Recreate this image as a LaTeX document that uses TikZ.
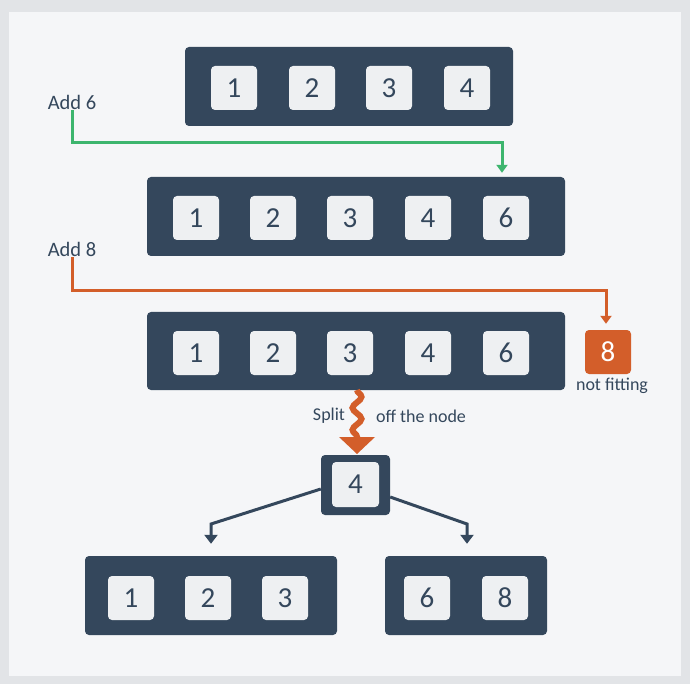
\documentclass[tikz,border=0pt]{standalone}
\usepackage{fontspec}
\setmainfont{Carlito}
\usetikzlibrary{arrows.meta,decorations.pathmorphing}
\definecolor{navy}{HTML}{34475C}
\definecolor{cellc}{HTML}{EEF0F2}
\definecolor{greenc}{HTML}{3DB56E}
\definecolor{orangec}{HTML}{D35E2A}
\definecolor{bgc}{HTML}{F5F6F8}
\definecolor{framec}{HTML}{E2E4E7}
\begin{document}
\begin{tikzpicture}[x=1pt,y=-1pt,
  container/.style={fill=navy, rounded corners=4pt, inner sep=0pt},
  cell/.style={fill=cellc, rounded corners=4pt, minimum width=46pt, minimum height=44pt, inner sep=0pt, font=\fontsize{29}{31}\selectfont, text=navy},
  hotcell/.style={cell, fill=orangec, text=white},
  lbl/.style={font=\fontsize{20.5}{22}\selectfont, text=navy, inner sep=1pt},
  smalllbl/.style={font=\fontsize{18}{20}\selectfont, text=navy, inner sep=1pt},
  greenline/.style={draw=greenc, line width=3pt, -{Triangle[width=11pt,length=8pt]}},
  orangeline/.style={draw=orangec, line width=3pt, -{Triangle[width=11pt,length=8pt]}},
  darkline/.style={draw=navy, line width=3pt, -{Triangle[width=13pt,length=9pt]}}
]
\useasboundingbox (0,0) rectangle (690,684);
\fill[framec] (0,0) rectangle (690,684);
\fill[bgc] (9,12) rectangle (681,676);

% row 1
\node[container, minimum width=328pt, minimum height=79pt] (r1) at (349,86.5) {};
\foreach \x/\t [count=\i] in {234/1,312/2,389/3,467/4}
  \node[cell] (r1c\i) at (\x,88) {\t};

% row 2
\node[container, minimum width=418pt, minimum height=79pt] (r2) at (356,216.5) {};
\foreach \x/\t [count=\i] in {196/1,273/2,350/3,428/4,506/6}
  \node[cell] (r2c\i) at (\x,218) {\t};

% row 3
\node[container, minimum width=418pt, minimum height=78pt] (r3) at (356,351) {};
\foreach \x/\t [count=\i] in {196/1,273/2,350/3,428/4,506/6}
  \node[cell] (r3c\i) at (\x,353) {\t};
\node[hotcell] (eight) at (608,352) {8};
\node[smalllbl] (nf) at (612,386) {not fitting};

% labels
\node[lbl] (add6) at (72,102) {Add 6};
\node[lbl] (add8) at (72,249) {Add 8};

% green connector
\coordinate (g1) at (502,143);
\draw[greenline] (add6.south) |- (g1) -- ([yshift=4pt]r2.north -| g1);

% orange connector
\coordinate (o1) at (606,291);
\draw[orangeline] (add8.south) |- (o1) -- ([yshift=6pt]eight.north -| o1);

% split arrow
\coordinate (s1) at (357,390);
\coordinate (s2) at (357,440);
\draw[orangec, line width=6pt, decorate, decoration={snake, segment length=22pt, amplitude=4.5pt}] (s1) -- (s2);
\fill[orangec] (339,437) -- (375,437) -- (357,454) -- cycle;
\node[smalllbl] (split) at (329,416) {Split};
\node[smalllbl] (off) at (421,416) {off the node};

% root
\node[container, minimum width=69pt, minimum height=60pt] (root) at (355.5,485) {};
\node[cell, minimum width=47pt, minimum height=45pt] (rc) at (355.5,484.5) {4};

% bottom nodes
\node[container, minimum width=252pt, minimum height=79pt] (bl) at (211,595.5) {};
\foreach \x/\t [count=\i] in {131/1,208/2,285/3}
  \node[cell] (blc\i) at (\x,598) {\t};
\node[container, minimum width=162pt, minimum height=79pt] (br) at (466,595.5) {};
\foreach \x/\t [count=\i] in {427/6,505/8}
  \node[cell] (brc\i) at (\x,598) {\t};

% edges
\coordinate (e1) at (211,524);
\coordinate (e2) at (467,524);
\draw[darkline] ([yshift=-4pt]root.west) -- (e1) -- ([yshift=12pt]bl.north -| e1);
\draw[darkline] ([yshift=-12pt]root.east) -- (e2) -- ([yshift=12pt]br.north -| e2);
\end{tikzpicture}
\end{document}
